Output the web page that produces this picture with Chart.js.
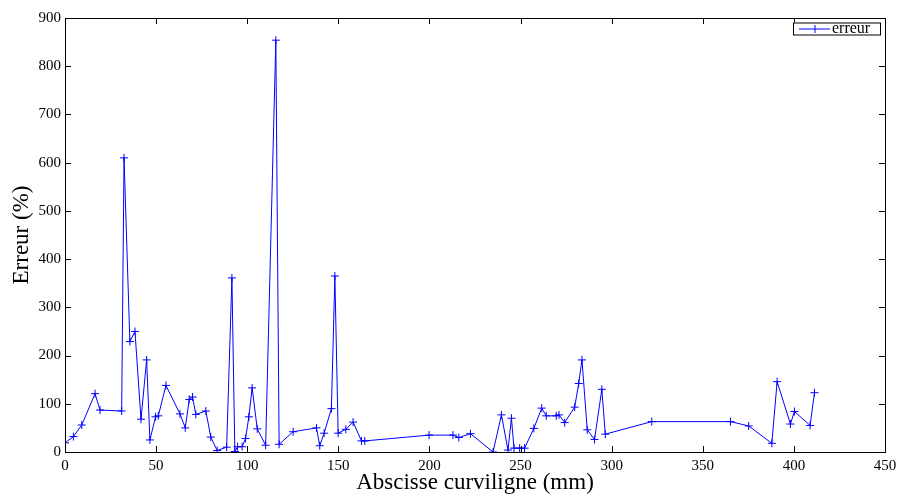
<!DOCTYPE html>
<html>
<head>
<meta charset="utf-8">
<script src="https://cdn.jsdelivr.net/npm/chart.js@4/dist/chart.umd.min.js"></script>
<style>
html, body { margin: 0; padding: 0; background: #fff; }
#wrap { width: 898px; height: 497px; }
</style>
</head>
<body>
<div id="wrap"><canvas id="chart" width="898" height="497"></canvas></div>
<script>
// --- Data ---
const abscisse = [0, 4.6, 9.2, 16.5, 19.2, 31.1, 32.4, 35.6, 38.4, 41.7,
    44.8, 46.6, 49.7, 51.2, 55.4, 63.1, 66.0, 68.2, 70.0, 71.8,
    77.3, 80.0, 83.5, 88.7, 91.6, 93.2, 94.7, 97.2, 99.1, 100.9,
    102.7, 105.5, 110.1, 115.7, 117.5, 125.2, 138.0, 139.8, 142.2, 146.2,
    148.1, 149.9, 154.1, 158.1, 162.7, 164.5, 199.8, 212.9, 216.1, 222.5,
    234.9, 239.5, 243.1, 245.0, 246.4, 249.5, 252.2, 257.3, 261.6, 264.1,
    269.6, 271.1, 274.2, 279.7, 281.9, 283.7, 286.6, 290.6, 294.6, 296.5,
    322.0, 365.2, 375.2, 387.9, 390.8, 398.1, 400.3, 408.9, 411.3];
const erreur = [19, 32, 56, 121, 87, 85, 610, 229, 250, 68,
    191, 25, 73, 75, 138, 79, 50, 109, 114, 78,
    85, 31, 3, 10, 361, 1, 11, 11, 28, 73,
    133, 48, 14, 854, 16, 42, 50, 13, 39, 90,
    365, 39, 47, 62, 23, 23, 35, 35, 30, 38,
    0, 77, 4, 70, 8, 8, 8, 49, 91, 75,
    75, 77, 61, 93, 142, 191, 46, 26, 130, 37,
    63, 63, 54, 18, 146, 58, 84, 55, 123];
const xTickValues = [0, 50, 100, 150, 200, 250, 300, 350, 400, 450];
const yTickValues = [0, 100, 200, 300, 400, 500, 600, 700, 800, 900];

const serif = "'Liberation Serif', 'DejaVu Serif', serif";
const blue = '#0000ff';

// --- Box frame, inward ticks on all sides, and the small legend ---
const matlabFrame = {
    id: 'matlabFrame',
    afterDraw(chart) {
        const { ctx, chartArea: a, scales } = chart;
        const len = 6;
        ctx.save();
        ctx.strokeStyle = '#000';
        ctx.lineWidth = 1;
        ctx.strokeRect(a.left + 0.5, a.top + 0.5, a.right - a.left, a.bottom - a.top);

        ctx.beginPath();
        xTickValues.forEach(v => {
            const px = Math.round(scales.x.getPixelForValue(v)) + 0.5;
            ctx.moveTo(px, a.bottom); ctx.lineTo(px, a.bottom - len);
            ctx.moveTo(px, a.top); ctx.lineTo(px, a.top + len);
        });
        yTickValues.forEach(v => {
            const py = Math.round(scales.y.getPixelForValue(v)) + 0.5;
            ctx.moveTo(a.left, py); ctx.lineTo(a.left + len, py);
            ctx.moveTo(a.right, py); ctx.lineTo(a.right - len, py);
        });
        ctx.stroke();

        // legend box
        const bx = a.right - 92, by = a.top + 4.5, bw = 87, bh = 12;
        ctx.fillStyle = '#fff';
        ctx.fillRect(bx, by, bw, bh);
        ctx.strokeRect(bx + 0.5, by + 0.5, bw, bh);
        const ly = by + bh / 2 + 0.5;
        ctx.strokeStyle = blue;
        ctx.beginPath();
        ctx.moveTo(bx + 6, ly); ctx.lineTo(bx + 37, ly);
        ctx.moveTo(bx + 22, ly - 4); ctx.lineTo(bx + 22, ly + 4);
        ctx.stroke();
        ctx.fillStyle = '#000';
        ctx.font = '16px ' + serif;
        ctx.textBaseline = 'middle';
        ctx.fillText('erreur', bx + 39, ly);
        ctx.restore();
    }
};

Chart.defaults.font.family = serif;
Chart.defaults.color = '#000';

new Chart(document.getElementById('chart').getContext('2d'), {
    type: 'line',
    data: {
        datasets: [{
            label: 'erreur',
            data: abscisse.map((x, i) => ({ x: x, y: erreur[i] })),
            borderColor: blue,
            backgroundColor: blue,
            borderWidth: 1,
            pointStyle: 'cross',
            pointRadius: 4,
            pointBorderWidth: 1,
            pointBorderColor: blue,
            tension: 0,
            fill: false
        }]
    },
    options: {
        responsive: false,
        animation: false,
        layout: { padding: { top: 18, right: 13, left: 0, bottom: 0 } },
        scales: {
            x: {
                type: 'linear',
                min: 0,
                max: 450,
                afterBuildTicks: s => { s.ticks = xTickValues.map(v => ({ value: v })); },
                afterFit: s => { s.height = 45; s.paddingLeft = 0; s.paddingRight = 0; },
                grid: { display: false, drawTicks: false },
                border: { display: false },
                ticks: { padding: 5, font: { size: 15 }, maxRotation: 0 },
                title: {
                    display: true,
                    text: 'Abscisse curviligne (mm)',
                    font: { size: 23, lineHeight: 1.2 },
                    padding: { top: 0, bottom: 0 }
                }
            },
            y: {
                min: 0,
                max: 900,
                afterBuildTicks: s => { s.ticks = yTickValues.map(v => ({ value: v })); },
                afterFit: s => { s.width = 65; s.paddingTop = 0; s.paddingBottom = 0; },
                grid: { display: false, drawTicks: false },
                border: { display: false },
                ticks: { padding: 4, font: { size: 15 } },
                title: {
                    display: true,
                    text: 'Erreur (%)',
                    font: { size: 23, lineHeight: 1.2 },
                    padding: { top: 8, bottom: 0 }
                }
            }
        },
        plugins: {
            legend: { display: false },
            tooltip: { enabled: false }
        }
    },
    plugins: [matlabFrame]
});
</script>
</body>
</html>
